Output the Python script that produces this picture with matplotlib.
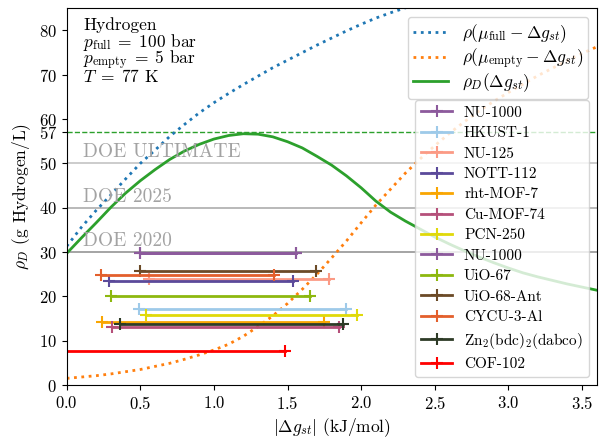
import matplotlib
matplotlib.use("Agg")
import matplotlib.pyplot as plt

plt.rcParams["font.family"] = "serif"
plt.rcParams["font.serif"] = ["cmr10", "DejaVu Serif"]
plt.rcParams["mathtext.fontset"] = "cm"
plt.rcParams["axes.formatter.use_mathtext"] = True
plt.rcParams["axes.unicode_minus"] = False

# curves
dg = [0.0, 0.1, 0.2, 0.3, 0.4, 0.5, 0.6, 0.7, 0.8, 0.9, 1.0, 1.1, 1.2, 1.3,
      1.4, 1.5, 1.6, 1.7, 1.8, 1.9, 2.0, 2.1, 2.2, 2.3, 2.4, 2.5, 2.6, 2.7,
      2.8, 2.9, 3.0, 3.1, 3.2, 3.3, 3.4, 3.5, 3.6]
rho_full = [31.3, 35.6, 39.4, 42.9, 46.5, 50.0, 53.0, 56.1, 58.8, 61.4, 63.7,
            65.8, 67.8, 69.7, 71.6, 73.3, 75.0, 76.7, 78.3, 79.9, 81.4, 82.8,
            84.0, 85.1, 86.2, 87.4, 88.6, 89.7, 90.7, 91.6, 92.4, 93.2, 94.1,
            94.9, 95.8, 96.6, 97.4]
rho_empty = [1.5, 1.8, 2.1, 2.5, 3.0, 3.5, 4.2, 4.9, 5.8, 6.8, 7.9, 9.2, 11.0,
             13.2, 15.6, 18.4, 21.6, 25.0, 28.7, 32.5, 36.6, 40.6, 44.2, 47.8,
             51.0, 54.0, 56.8, 59.4, 61.8, 64.0, 66.0, 67.9, 69.8, 71.5, 73.2,
             74.8, 76.3]
rho_d = [29.7, 33.2, 36.6, 40.1, 43.3, 46.1, 48.6, 50.9, 52.8, 54.3, 55.5,
         56.3, 56.7, 56.6, 56.0, 54.9, 53.5, 51.6, 49.6, 47.2, 44.5, 41.5,
         39.0, 37.0, 35.2, 33.4, 31.8, 30.3, 28.9, 27.6, 26.4, 25.3, 24.4,
         23.6, 22.8, 22.1, 21.4]
rho_max = 57

doe_names = ["DOE 2020", "DOE 2025", "DOE ULTIMATE"]
doe_vals = [30, 40, 50]
doe_cols = ["0.55", "0.65", "0.75"]

info_lines = ["Hydrogen",
              r"$p_\mathrm{full}\;=\;100$ bar",
              r"$p_\mathrm{empty}\;=\;5$ bar",
              r"$T\;=\;77$ K"]

# materials: name, dg range, deliverable density
mofs = ["NU-1000", "HKUST-1", "NU-125", "NOTT-112", "rht-MOF-7", "Cu-MOF-74",
        "PCN-250", "NU-1000", "UiO-67", "UiO-68-Ant", "CYCU-3-Al",
        r"Zn$_2$(bdc)$_2$(dabco)", "COF-102"]
dg_lo = [0.50, 0.49, 0.56, 0.29, 0.24, 0.31, 0.54, 0.50, 0.30, 0.50, 0.23,
         0.36, -0.2]
dg_hi = [1.56, 1.90, 1.78, 1.54, 1.75, 1.85, 1.97, 1.56, 1.65, 1.69, 1.41,
         1.88, 1.48]
rho_mof = [29.8, 17.1, 23.9, 23.5, 14.3, 13.0, 15.8, 29.8, 20.1, 25.8, 24.8,
           13.7, 7.7]
mof_cols = ["#8c5a9c", "#9ecae9", "#fb9a85", "#5b4a9a", "#f9a602", "#b5507a",
            "#e0d90a", "#8c5a9c", "#8db80f", "#6b4a27", "#e35f2c", "#2e3b27",
            "#ff0000"]

fig = plt.figure(figsize=(6.02, 4.38), dpi=100)
ax = fig.add_axes([0.1108, 0.121, 0.8804, 0.86])

# DOE targets
for name, val, c in zip(doe_names, doe_vals, doe_cols):
    ax.axhline(val, color=c, lw=1.1, zorder=1)
    ax.text(0.11, val + 0.5, name, color="0.64", fontsize=14, va="bottom")
ax.axhline(rho_max, color="tab:green", ls="--", lw=1, zorder=1)

l1, = ax.plot(dg, rho_full, ":", color="tab:blue", lw=2,
              label=r"$\rho(\mu_\mathrm{full} - \Delta g_{st})$")
l2, = ax.plot(dg, rho_empty, ":", color="tab:orange", lw=2,
              label=r"$\rho(\mu_\mathrm{empty} - \Delta g_{st})$")
l3, = ax.plot(dg, rho_d, "-", color="tab:green", lw=2,
              label=r"$\rho_D(\Delta g_{st})$")

bars = []
for name, lo, hi, r, c in zip(mofs, dg_lo, dg_hi, rho_mof, mof_cols):
    b, = ax.plot([lo, hi], [r, r], color=c, lw=2, marker="+", ms=8, mew=1.5,
                 label=name)
    bars.append(b)

# info box, one line at a time
for i, line in enumerate(info_lines):
    ax.text(0.031, 0.942 - 0.0455 * i, line, transform=ax.transAxes,
            va="baseline", ha="left", fontsize=12.5)

ax.set_xlim(0, 3.6)
ax.set_ylim(0, 85)
ax.set_yticks([0, 10, 20, 30, 40, 50, 57, 60, 70, 80])
ax.tick_params(labelsize=12)
ax.set_xlabel(r"$|\Delta g_{st}|$ (kJ/mol)", fontsize=12.5, labelpad=3)
ax.set_ylabel(r"$\rho_D$ (g Hydrogen/L)", fontsize=12.5, labelpad=4)

leg1 = ax.legend(handles=[l1, l2, l3], loc="upper right", fontsize=12.5,
                 labelspacing=0.05, borderpad=0.3, borderaxespad=0.5)
ax.add_artist(leg1)
ax.legend(handles=bars, loc="lower right", fontsize=11, numpoints=1,
          labelspacing=0.44, borderaxespad=0.5)

fig.savefig("out.png", dpi=100)
